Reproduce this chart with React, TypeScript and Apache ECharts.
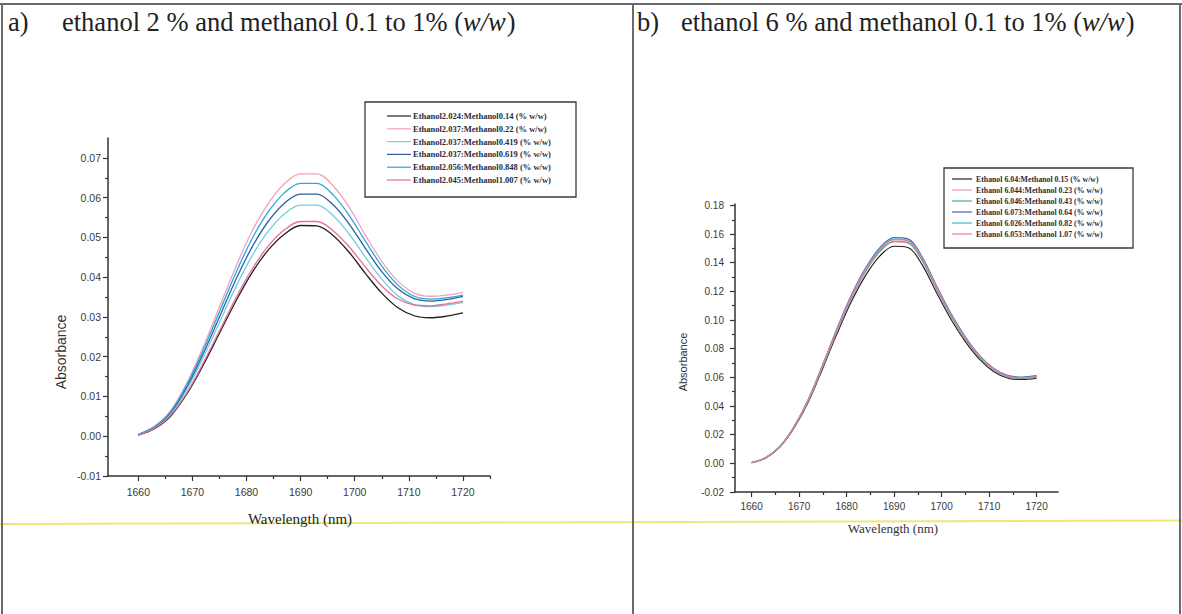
import React, { useEffect, useRef } from 'react';
import * as echarts from 'echarts';

// ---------- data ----------
const wavelengths = [1660, 1663, 1666, 1669, 1672, 1675, 1678, 1681, 1684, 1687, 1690, 1693, 1696, 1699, 1702, 1705, 1708, 1711, 1714, 1717, 1720];

const namesA = [
  'Ethanol2.024:Methanol0.14 (% w/w)',
  'Ethanol2.037:Methanol0.22 (% w/w)',
  'Ethanol2.037:Methanol0.419 (% w/w)',
  'Ethanol2.037:Methanol0.619 (% w/w)',
  'Ethanol2.056:Methanol0.848 (% w/w)',
  'Ethanol2.045:Methanol1.007 (% w/w)',
];
const colorsA = ['#222222', '#f5a0bc', '#6fd0e0', '#2f5f9e', '#2aa8d8', '#e8709a'];

const a_m014 = [0.0003, 0.0019, 0.0051, 0.0107, 0.0179, 0.0259, 0.0339, 0.0411, 0.0468, 0.0508, 0.0530, 0.0529, 0.0505, 0.0462, 0.0409, 0.0360, 0.0323, 0.0303, 0.0298, 0.0302, 0.0310];
const a_m022 = [0.0005, 0.0025, 0.0065, 0.0135, 0.0225, 0.0325, 0.0425, 0.0515, 0.0585, 0.0635, 0.0660, 0.0660, 0.0630, 0.0575, 0.0505, 0.0440, 0.0390, 0.0360, 0.0352, 0.0355, 0.0362];
const a_m0419 = [0.0004, 0.0022, 0.0057, 0.0119, 0.0198, 0.0286, 0.0375, 0.0453, 0.0515, 0.0559, 0.0581, 0.0581, 0.0555, 0.0508, 0.0450, 0.0395, 0.0353, 0.0331, 0.0326, 0.0330, 0.0336];
const a_m0619 = [0.0004, 0.0023, 0.0060, 0.0125, 0.0208, 0.0300, 0.0393, 0.0475, 0.0540, 0.0586, 0.0609, 0.0609, 0.0582, 0.0533, 0.0472, 0.0414, 0.0370, 0.0346, 0.0340, 0.0344, 0.0352];
const a_m0848 = [0.0005, 0.0024, 0.0062, 0.0130, 0.0217, 0.0313, 0.0410, 0.0496, 0.0564, 0.0612, 0.0636, 0.0636, 0.0607, 0.0555, 0.0490, 0.0428, 0.0380, 0.0352, 0.0345, 0.0348, 0.0355];
const a_m1007 = [0.0003, 0.0020, 0.0053, 0.0110, 0.0184, 0.0265, 0.0347, 0.0420, 0.0478, 0.0519, 0.0540, 0.0540, 0.0517, 0.0476, 0.0425, 0.0378, 0.0345, 0.0330, 0.0328, 0.0333, 0.0340];
const valuesA = [a_m014, a_m022, a_m0419, a_m0619, a_m0848, a_m1007];

const namesB = [
  'Ethanol 6.04:Methanol 0.15 (% w/w)',
  'Ethanol 6.044:Methanol 0.23 (% w/w)',
  'Ethanol 6.046:Methanol 0.43 (% w/w)',
  'Ethanol 6.073:Methanol 0.64 (% w/w)',
  'Ethanol 6.026:Methanol 0.82 (% w/w)',
  'Ethanol 6.053:Methanol 1.07 (% w/w)',
];
const colorsB = ['#222222', '#f29ab0', '#3fb487', '#4a6ab2', '#3fb8d8', '#f07a98'];

const b_m015 = [0.0004, 0.0038, 0.0116, 0.0251, 0.0434, 0.0666, 0.0907, 0.1129, 0.1312, 0.1448, 0.1515, 0.1505, 0.1380, 0.1187, 0.1004, 0.0850, 0.0726, 0.0640, 0.0595, 0.0585, 0.0595];
const b_m023 = [0.0005, 0.0039, 0.0118, 0.0256, 0.0443, 0.0679, 0.0925, 0.1151, 0.1338, 0.1476, 0.1545, 0.1535, 0.1407, 0.1210, 0.1023, 0.0866, 0.0739, 0.0652, 0.0602, 0.0592, 0.0602];
const b_m043 = [0.0005, 0.0040, 0.0118, 0.0257, 0.0444, 0.0681, 0.0928, 0.1155, 0.1342, 0.1481, 0.1550, 0.1540, 0.1411, 0.1214, 0.1027, 0.0869, 0.0741, 0.0653, 0.0603, 0.0593, 0.0603];
const b_m064 = [0.0005, 0.0040, 0.0120, 0.0261, 0.0451, 0.0692, 0.0943, 0.1174, 0.1364, 0.1505, 0.1575, 0.1565, 0.1434, 0.1234, 0.1043, 0.0883, 0.0752, 0.0662, 0.0612, 0.0602, 0.0612];
const b_m082 = [0.0005, 0.0040, 0.0120, 0.0259, 0.0449, 0.0688, 0.0937, 0.1166, 0.1356, 0.1496, 0.1565, 0.1555, 0.1426, 0.1226, 0.1037, 0.0877, 0.0748, 0.0658, 0.0608, 0.0598, 0.0608];
const b_m107 = [0.0005, 0.0040, 0.0119, 0.0258, 0.0447, 0.0686, 0.0934, 0.1163, 0.1352, 0.1491, 0.1561, 0.1551, 0.1421, 0.1223, 0.1034, 0.0875, 0.0746, 0.0656, 0.0606, 0.0596, 0.0606];
const valuesB = [b_m015, b_m023, b_m043, b_m064, b_m082, b_m107];

const xLabels = [1660, 1670, 1680, 1690, 1700, 1710, 1720];
const xMinorTicks = [1665, 1675, 1685, 1695, 1705, 1715, 1725];
const yLabelsA = [-0.01, 0, 0.01, 0.02, 0.03, 0.04, 0.05, 0.06, 0.07];
const yMinorA = [-0.005, 0.005, 0.015, 0.025, 0.035, 0.045, 0.055, 0.065];
const yLabelsB = [-0.02, 0, 0.02, 0.04, 0.06, 0.08, 0.1, 0.12, 0.14, 0.16, 0.18];
const yMinorB = [-0.01, 0.01, 0.03, 0.05, 0.07, 0.09, 0.11, 0.13, 0.15, 0.17];

const titleA = 'ethanol 2 % and methanol 0.1 to 1% (';
const titleB = 'ethanol 6 % and methanol 0.1 to 1% (';
const titleItalic = 'w/w';
const titleEnd = ')';

// ---------- helpers ----------
const AX = '#333333';
const SANS = 'Liberation Sans';
const SERIF = 'Liberation Serif';
const TITLE_SIZE = 26.5;

function measure(text: string, font: string) {
  const ctx = document.createElement('canvas').getContext('2d');
  if (!ctx) return text.length * 10;
  ctx.font = font;
  return ctx.measureText(text).width;
}

function mainX(grid: number, min: number, max: number, fs: number, margin: number) {
  return {
    gridIndex: grid, type: 'value', min, max, position: 'bottom',
    axisLine: { show: true, onZero: false, lineStyle: { color: AX, width: 1.5 } },
    axisTick: { show: true, customValues: xLabels, length: 5, inside: false, lineStyle: { color: AX, width: 1.2 } },
    axisLabel: { customValues: xLabels, margin, fontSize: fs, fontFamily: SANS, color: '#3a3a3a', formatter: (v: number) => String(v) },
    splitLine: { show: false },
  };
}
function minorX(grid: number, min: number, max: number) {
  return {
    gridIndex: grid, type: 'value', min, max, position: 'bottom',
    axisLine: { show: false, onZero: false },
    axisTick: { show: true, customValues: xMinorTicks, length: 3, inside: false, lineStyle: { color: AX, width: 1.2 } },
    axisLabel: { show: false },
    splitLine: { show: false },
  };
}
function mainY(grid: number, min: number, max: number, labels: number[], fs: number, margin: number) {
  return {
    gridIndex: grid, type: 'value', min, max, position: 'left',
    axisLine: { show: true, onZero: false, lineStyle: { color: AX, width: 1.5 } },
    axisTick: { show: true, customValues: labels, length: 5, inside: false, lineStyle: { color: AX, width: 1.2 } },
    axisLabel: { customValues: labels, margin, fontSize: fs, fontFamily: SANS, color: '#3a3a3a', formatter: (v: number) => v.toFixed(2) },
    splitLine: { show: false },
  };
}
function minorY(grid: number, min: number, max: number, ticks: number[]) {
  return {
    gridIndex: grid, type: 'value', min, max, position: 'left',
    axisLine: { show: false, onZero: false },
    axisTick: { show: true, customValues: ticks, length: 3, inside: false, lineStyle: { color: AX, width: 1.2 } },
    axisLabel: { show: false },
    splitLine: { show: false },
  };
}

function textStyle(text: string, size: number, family: string, fill: string, align: string, weight = 'normal', italic = false) {
  return {
    text, fill, fontSize: size, fontFamily: family, fontWeight: weight, fontStyle: italic ? 'italic' : 'normal',
    align, verticalAlign: 'middle', textAlign: align, textVerticalAlign: 'middle',
  };
}

function legendBox(names: string[], colors: string[], box: { x: number; y: number; w: number; h: number }, row0: number, step: number, lx0: number, lx1: number, tx: number, fs: number) {
  const els: any[] = [
    { type: 'rect', shape: { x: box.x, y: box.y, width: box.w, height: box.h }, style: { fill: '#ffffff', stroke: '#3a3a3a', lineWidth: 1.3 }, z: 20 },
  ];
  names.forEach((n, i) => {
    const y = row0 + i * step;
    els.push({ type: 'line', shape: { x1: lx0, y1: y, x2: lx1, y2: y }, style: { stroke: colors[i], lineWidth: 1.2 }, z: 21 });
    els.push({ type: 'text', x: tx, y, style: textStyle(n, fs, SERIF, '#2b2b3a', 'left', 'bold'), z: 21 });
  });
  return els;
}

function titleEls(label: string, lx: number, text: string, tx: number) {
  const w1 = measure(text, `${TITLE_SIZE}px "${SERIF}"`);
  const w2 = measure(titleItalic, `italic ${TITLE_SIZE}px "${SERIF}"`);
  return [
    { type: 'text', x: lx, y: 22, style: textStyle(label, TITLE_SIZE, SERIF, '#222', 'left'), z: 30 },
    { type: 'text', x: tx, y: 22, style: textStyle(text, TITLE_SIZE, SERIF, '#222', 'left'), z: 30 },
    { type: 'text', x: tx + w1, y: 22, style: textStyle(titleItalic, TITLE_SIZE, SERIF, '#222', 'left', 'normal', true), z: 30 },
    { type: 'text', x: tx + w1 + w2 + 1, y: 22, style: textStyle(titleEnd, TITLE_SIZE, SERIF, '#222', 'left'), z: 30 },
  ];
}

export default function App() {
  const ref = useRef<HTMLDivElement>(null);
  useEffect(() => {
    if (!ref.current) return;
    const chart = echarts.init(ref.current, undefined, { renderer: 'svg' });

    const series: any[] = [];
    valuesA.forEach((vals, i) => {
      series.push({
        type: 'line', name: namesA[i], xAxisIndex: 0, yAxisIndex: 0,
        data: wavelengths.map((w, k) => [w, vals[k]]),
        showSymbol: false, smooth: 0.35, lineStyle: { color: colorsA[i], width: 1.3 }, itemStyle: { color: colorsA[i] },
      });
    });
    valuesB.forEach((vals, i) => {
      series.push({
        type: 'line', name: namesB[i], xAxisIndex: 2, yAxisIndex: 2,
        data: wavelengths.map((w, k) => [w, vals[k]]),
        showSymbol: false, smooth: 0.35, lineStyle: { color: colorsB[i], width: 1.2 }, itemStyle: { color: colorsB[i] },
      });
    });

    const graphic: any[] = [
      // page borders
      { type: 'line', shape: { x1: 0, y1: 4, x2: 1182, y2: 4 }, style: { stroke: '#6a6a6a', lineWidth: 2 } },
      { type: 'line', shape: { x1: 2, y1: 3, x2: 2, y2: 614 }, style: { stroke: '#6a6a6a', lineWidth: 2 } },
      { type: 'line', shape: { x1: 633, y1: 3, x2: 633, y2: 614 }, style: { stroke: '#6a6a6a', lineWidth: 2 } },
      { type: 'line', shape: { x1: 1180, y1: 3, x2: 1180, y2: 614 }, style: { stroke: '#6a6a6a', lineWidth: 2 } },
      // yellow scan line
      { type: 'line', shape: { x1: 0, y1: 524, x2: 1182, y2: 520.5 }, style: { stroke: '#ece77a', lineWidth: 2 }, z: -1 },
      ...titleEls('a)', 8, titleA, 62),
      ...titleEls('b)', 637, titleB, 681),
      // axis names
      { type: 'text', x: 61, y: 352, rotation: Math.PI / 2, style: textStyle('Absorbance', 14, SANS, '#333', 'center') },
      { type: 'text', x: 300, y: 519, style: textStyle('Wavelength (nm)', 15, SERIF, '#222', 'center') },
      { type: 'text', x: 683, y: 362, rotation: Math.PI / 2, style: textStyle('Absorbance', 11, SANS, '#333', 'center') },
      { type: 'text', x: 893, y: 528, style: textStyle('Wavelength (nm)', 13, SERIF, '#333', 'center') },
      ...legendBox(namesA, colorsA, { x: 365, y: 102, w: 211, h: 95 }, 116, 12.8, 387, 411, 413, 8.5),
      ...legendBox(namesB, colorsB, { x: 944, y: 168, w: 189, h: 80 }, 179, 11, 952, 972, 976, 7.8),
    ];

    chart.setOption({
      animation: false,
      backgroundColor: '#ffffff',
      grid: [
        { left: 108, top: 138, width: 382, height: 338 },
        { left: 735, top: 204, width: 323, height: 288 },
      ],
      xAxis: [
        mainX(0, 1654.4, 1725, 10.5, 10),
        minorX(0, 1654.4, 1725),
        mainX(1, 1656.5, 1724.5, 10, 9),
        minorX(1, 1656.5, 1724.5),
      ],
      yAxis: [
        mainY(0, -0.01, 0.075, yLabelsA, 10.5, 7),
        minorY(0, -0.01, 0.075, yMinorA),
        mainY(1, -0.02, 0.181, yLabelsB, 10, 11),
        minorY(1, -0.02, 0.181, yMinorB),
      ],
      series,
      graphic,
    });
    return () => chart.dispose();
  }, []);
  return <div ref={ref} style={{ position: 'fixed', left: 0, top: 0, width: 1182, height: 614, background: '#fff' }} />;
}
